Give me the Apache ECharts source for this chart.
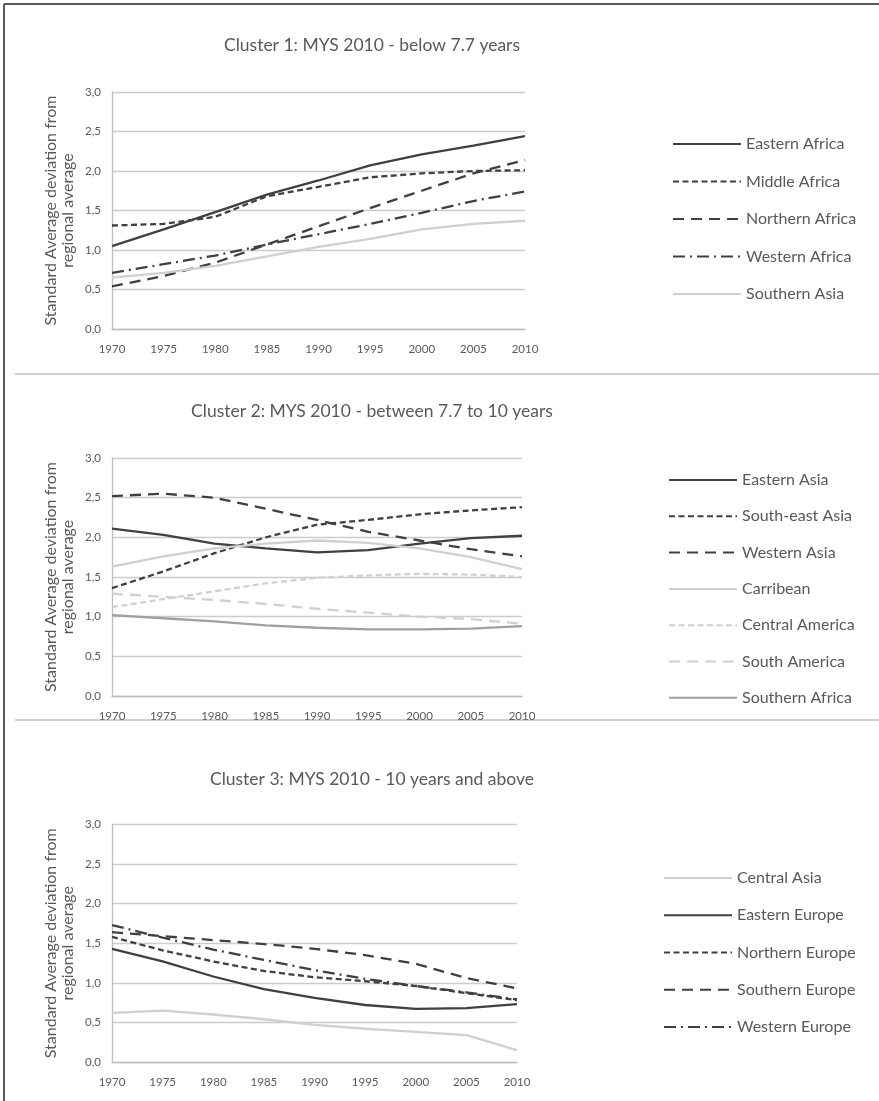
<!DOCTYPE html>
<html>
<head>
<meta charset="utf-8">
<script src="https://cdn.jsdelivr.net/npm/echarts@6/dist/echarts.min.js"></script>
<style>
html,body{margin:0;padding:0;background:#fff;}
#chart{width:879px;height:1101px;}
</style>
</head>
<body>
<div id="chart"></div>
<script>
// ---- Data ----
const years = ['1970','1975','1980','1985','1990','1995','2000','2005','2010'];
const yTicks = [0, 0.5, 1.0, 1.5, 2.0, 2.5, 3.0];

const titles = [
  'Cluster 1: MYS 2010 - below 7.7 years',
  'Cluster 2: MYS 2010 - between 7.7 to 10 years',
  'Cluster 3: MYS 2010 - 10 years and above'
];
const yAxisTitle = 'Standard Average deviation from\nregional average';

// Cluster 1
const c1Names = ['Eastern Africa','Middle Africa','Northern Africa','Western Africa','Southern Asia'];
const easternAfrica  = [1.05, 1.26, 1.48, 1.70, 1.88, 2.07, 2.21, 2.32, 2.44];
const middleAfrica   = [1.31, 1.33, 1.42, 1.68, 1.80, 1.92, 1.97, 2.00, 2.01];
const northernAfrica = [0.54, 0.67, 0.84, 1.07, 1.30, 1.53, 1.75, 1.97, 2.14];
const westernAfrica  = [0.71, 0.82, 0.93, 1.07, 1.20, 1.33, 1.47, 1.62, 1.74];
const southernAsia   = [0.65, 0.71, 0.80, 0.92, 1.04, 1.14, 1.26, 1.33, 1.37];

// Cluster 2
const c2Names = ['Eastern Asia','South-east Asia','Western Asia','Carribean','Central America','South America','Southern Africa'];
const easternAsia    = [2.11, 2.03, 1.92, 1.86, 1.81, 1.84, 1.92, 1.99, 2.02];
const southeastAsia  = [1.36, 1.57, 1.80, 2.00, 2.16, 2.22, 2.29, 2.34, 2.38];
const westernAsia    = [2.52, 2.55, 2.50, 2.36, 2.22, 2.07, 1.96, 1.85, 1.76];
const carribean      = [1.63, 1.76, 1.86, 1.92, 1.96, 1.93, 1.86, 1.75, 1.60];
const centralAmerica = [1.12, 1.22, 1.32, 1.42, 1.49, 1.52, 1.54, 1.53, 1.50];
const southAmerica   = [1.29, 1.25, 1.21, 1.16, 1.10, 1.05, 1.00, 0.97, 0.91];
const southernAfrica = [1.02, 0.98, 0.94, 0.89, 0.86, 0.84, 0.84, 0.85, 0.88];

// Cluster 3
const c3Names = ['Central Asia','Eastern Europe','Northern Europe','Southern Europe','Western Europe'];
const centralAsia    = [0.62, 0.65, 0.60, 0.54, 0.47, 0.42, 0.38, 0.34, 0.15];
const easternEurope  = [1.43, 1.27, 1.08, 0.92, 0.81, 0.72, 0.67, 0.68, 0.73];
const northernEurope = [1.58, 1.41, 1.27, 1.15, 1.07, 1.02, 0.96, 0.87, 0.78];
const southernEurope = [1.64, 1.59, 1.54, 1.49, 1.43, 1.35, 1.24, 1.06, 0.93];
const westernEurope  = [1.73, 1.57, 1.42, 1.29, 1.16, 1.05, 0.96, 0.88, 0.79];

// ---- Styles ----
const DARK = '#404040', LIGHT = '#d0d0d0', MID = '#a0a0a0';
const TXT = '#595959', GRID = '#cccccc', AXIS = '#bfbfbf';
const FONT = 'Lato, "Open Sans", sans-serif';
const SOLID = 'solid', SDASH = [6, 3.5], LDASH = [11, 7], DASHDOT = [12, 5, 2, 5];

const panels = [
  { names: c1Names, data: [easternAfrica, middleAfrica, northernAfrica, westernAfrica, southernAsia],
    colors: [DARK, DARK, DARK, DARK, LIGHT], types: [SOLID, SDASH, LDASH, DASHDOT, SOLID],
    grid: {left: 112, top: 92, width: 413, height: 237}, titleY: 45, legendTop: 131, legendLeft: 667, legendGap: 21.5 },
  { names: c2Names, data: [easternAsia, southeastAsia, westernAsia, carribean, centralAmerica, southAmerica, southernAfrica],
    colors: [DARK, DARK, DARK, LIGHT, LIGHT, LIGHT, MID], types: [SOLID, SDASH, LDASH, SOLID, SDASH, LDASH, SOLID],
    grid: {left: 112, top: 458, width: 410, height: 238}, titleY: 411, legendTop: 467, legendLeft: 663, legendGap: 20.3 },
  { names: c3Names, data: [centralAsia, easternEurope, northernEurope, southernEurope, westernEurope],
    colors: [LIGHT, DARK, DARK, DARK, DARK], types: [SOLID, SOLID, SDASH, LDASH, DASHDOT],
    grid: {left: 112, top: 824.5, width: 405, height: 237.5}, titleY: 779, legendTop: 865, legendLeft: 658, legendGap: 21.25 }
];

const option = {
  animation: false,
  backgroundColor: '#fff',
  grid: [], xAxis: [], yAxis: [], series: [], legend: [],
  graphic: []
};

panels.forEach((p, i) => {
  option.grid.push(Object.assign({containLabel: false}, p.grid));
  option.xAxis.push({
    type: 'category', gridIndex: i, data: years, boundaryGap: false,
    axisLine: {show: true, lineStyle: {color: AXIS, width: 1.3}},
    axisTick: {show: false},
    axisLabel: {color: TXT, fontFamily: FONT, fontSize: 11.5, margin: 14, interval: 0}
  });
  option.yAxis.push({
    type: 'value', gridIndex: i, min: 0, max: 3, interval: 0.5,
    name: yAxisTitle, nameLocation: 'middle', nameRotate: 90, nameGap: 36,
    nameTextStyle: {color: TXT, fontFamily: FONT, fontSize: 16, lineHeight: 17},
    axisLine: {show: true, lineStyle: {color: AXIS, width: 1.3}},
    axisTick: {show: false},
    splitLine: {show: true, lineStyle: {color: GRID, width: 1.3}},
    axisLabel: {color: TXT, fontFamily: FONT, fontSize: 11.5, margin: 11,
      formatter: v => v.toFixed(1).replace('.', ',')}
  });
  const legendData = [];
  p.names.forEach((n, k) => {
    legendData.push({name: n});
    option.series.push({
      type: 'line', name: n, xAxisIndex: i, yAxisIndex: i,
      data: p.data[k], symbol: 'none', smooth: false,
      color: p.colors[k],
      lineStyle: {color: p.colors[k], width: 2.3, type: p.types[k]}
    });
  });
  option.legend.push({
    data: legendData, orient: 'vertical', left: p.legendLeft, top: p.legendTop,
    itemWidth: 68, itemHeight: 14, itemGap: p.legendGap,
    selectedMode: false,
    itemStyle: {color: 'rgba(0,0,0,0)', borderColor: 'rgba(0,0,0,0)', borderWidth: 0, opacity: 0},
    textStyle: {color: TXT, fontFamily: FONT, fontSize: 16, lineHeight: 14, padding: [0, 0, 0, 0]}
  });
  option.graphic.push({
    type: 'text', x: 372, y: p.titleY,
    style: {text: titles[i], fill: TXT, font: '17.5px ' + FONT, textAlign: 'center', textVerticalAlign: 'middle'}
  });
});

// frame & separators
option.graphic.push(
  {type: 'line', shape: {x1: 4, y1: 4, x2: 879, y2: 4}, style: {stroke: '#595959', lineWidth: 2}},
  {type: 'line', shape: {x1: 4, y1: 4, x2: 4, y2: 1101}, style: {stroke: '#595959', lineWidth: 2}},
  {type: 'line', shape: {x1: 15, y1: 374, x2: 879, y2: 374}, style: {stroke: '#d0d0d0', lineWidth: 2}},
  {type: 'line', shape: {x1: 15, y1: 720, x2: 879, y2: 720}, style: {stroke: '#d0d0d0', lineWidth: 2}}
);

const chart = echarts.init(document.getElementById('chart'), null, {renderer: 'canvas'});
chart.setOption(option);
</script>
</body>
</html>
